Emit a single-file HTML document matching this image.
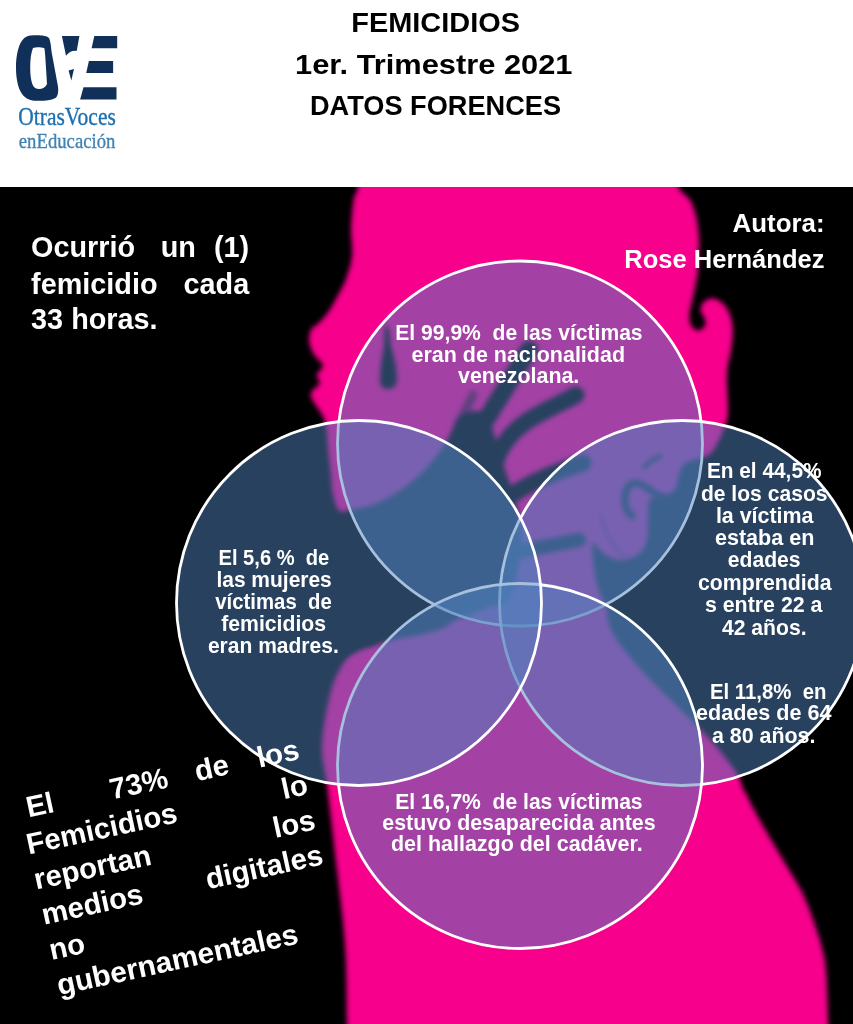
<!DOCTYPE html>
<html lang="es"><head><meta charset="utf-8"><title>Femicidios 1er. Trimestre 2021</title>
<style>
html,body{margin:0;padding:0;background:#fff}
#page{position:relative;width:853px;height:1024px;overflow:hidden;background:#fff}
svg{display:block}
</style></head><body>
<div id="page">
<svg width="853" height="1024" viewBox="0 0 853 1024">
<defs>
<filter id="b3" x="-10%" y="-10%" width="120%" height="120%"><feGaussianBlur stdDeviation="2.6"/></filter>
<filter id="b2" x="-30%" y="-30%" width="160%" height="160%"><feGaussianBlur stdDeviation="2.8"/></filter>
<clipPath id="art"><rect x="0" y="187" width="853" height="837"/></clipPath>
</defs>
<rect x="0" y="0" width="853" height="187" fill="#fff"/>
<!-- artwork -->
<g clip-path="url(#art)">
<rect x="0" y="187" width="853" height="837" fill="#000"/>
<path id="silhouette" d="M362.0,150.0 C389.0,142.2 468.7,140.0 520.0,140.0 C571.3,140.0 643.7,142.3 670.0,150.0 C696.3,157.7 674.7,177.7 678.0,186.0 C681.3,194.3 687.0,195.0 690.0,200.0 C693.0,205.0 694.5,209.5 696.0,216.0 C697.5,222.5 698.7,230.2 699.0,239.0 C699.3,247.8 698.6,261.3 698.0,269.0 C697.4,276.7 696.3,280.3 695.5,285.0 C694.7,289.7 694.0,292.2 693.0,297.0 C692.0,301.8 689.8,309.3 689.5,314.0 C689.2,318.7 689.6,322.2 691.0,325.0 C692.4,327.8 695.7,330.3 698.0,330.5 C700.3,330.7 703.9,328.1 705.0,326.0 C706.1,323.9 705.2,320.5 704.5,318.0 C703.8,315.5 700.8,313.5 700.5,311.0 C700.2,308.5 701.4,305.1 703.0,303.0 C704.6,300.9 707.7,299.1 710.0,298.5 C712.3,297.9 714.6,298.4 717.0,299.5 C719.4,300.6 722.3,302.4 724.5,305.0 C726.7,307.6 728.7,311.5 730.0,315.0 C731.3,318.5 732.1,322.2 732.5,326.0 C732.9,329.8 732.8,334.0 732.5,338.0 C732.2,342.0 731.7,346.0 731.0,350.0 C730.3,354.0 729.2,358.3 728.5,362.0 C727.8,365.7 727.2,367.8 727.0,372.0 C726.8,376.2 726.8,381.3 727.0,387.0 C727.2,392.7 727.9,400.8 728.0,406.0 C728.1,411.2 728.0,414.5 727.4,418.0 C726.8,421.5 725.9,423.3 724.5,427.0 C723.1,430.7 721.1,435.8 719.0,440.0 C716.9,444.2 714.5,449.2 712.0,452.0 C709.5,454.8 707.7,455.5 704.0,457.0 C700.3,458.5 693.3,459.8 690.0,461.0 C686.7,462.2 685.8,461.8 684.0,464.0 C682.2,466.2 680.3,470.0 679.0,474.0 C677.7,478.0 677.8,484.7 676.0,488.0 C674.2,491.3 671.5,492.7 668.0,494.0 C664.5,495.3 658.2,494.7 655.0,496.0 C651.8,497.3 650.2,498.0 649.0,502.0 C647.8,506.0 648.3,513.8 648.0,520.0 C647.7,526.2 648.3,533.5 647.0,539.0 C645.7,544.5 644.0,549.5 640.0,553.0 C636.0,556.5 628.2,559.3 623.0,560.0 C617.8,560.7 612.8,558.7 609.0,557.0 C605.2,555.3 602.7,552.3 600.0,550.0 C597.3,547.7 594.2,541.3 593.0,543.0 C591.8,544.7 592.5,553.8 593.0,560.0 C593.5,566.2 594.8,574.3 596.0,580.0 C597.2,585.7 598.5,590.0 600.0,594.0 C601.5,598.0 602.8,597.3 605.0,604.0 C607.2,610.7 606.5,622.5 613.0,634.0 C619.5,645.5 632.3,660.0 644.0,673.0 C655.7,686.0 671.3,700.2 683.0,712.0 C694.7,723.8 704.8,733.5 714.0,744.0 C723.2,754.5 733.2,767.7 738.0,775.0 C742.8,782.3 739.0,779.8 743.0,788.0 C747.0,796.2 755.0,811.5 762.0,824.0 C769.0,836.5 778.2,851.3 785.0,863.0 C791.8,874.7 797.8,883.2 803.0,894.0 C808.2,904.8 812.5,917.7 816.0,928.0 C819.5,938.3 822.2,947.5 824.0,956.0 C825.8,964.5 825.8,967.7 826.5,979.0 C827.2,990.3 827.8,1010.5 828.0,1024.0 C828.2,1037.5 908.0,1054.0 828.0,1060.0 C748.0,1066.0 428.2,1066.0 348.0,1060.0 C267.8,1054.0 347.5,1043.2 347.0,1024.0 C346.5,1004.8 346.7,970.7 345.0,945.0 C343.3,919.3 340.0,896.7 337.0,870.0 C334.0,843.3 329.5,805.8 327.0,785.0 C324.5,764.2 321.4,760.4 322.0,745.0 C322.6,729.6 327.0,706.3 330.6,692.6 C334.2,678.9 339.1,670.1 343.8,662.6 C348.5,655.1 353.5,650.9 358.8,647.5 C364.1,644.1 368.8,647.4 375.7,642.0 C382.6,636.6 397.6,630.3 400.0,615.0 C402.4,599.7 398.3,565.5 390.0,550.0 C381.7,534.5 358.7,528.8 350.0,522.0 C341.3,515.2 340.8,513.7 338.0,509.0 C335.2,504.3 334.2,499.5 333.0,494.0 C331.8,488.5 331.8,483.8 331.0,476.0 C330.2,468.2 328.8,455.2 328.0,447.5 C327.2,439.8 327.2,434.8 326.5,430.0 C325.8,425.2 325.4,422.4 324.0,418.8 C322.6,415.2 319.8,411.5 318.0,408.6 C316.2,405.7 314.2,404.0 313.0,401.3 C311.8,398.6 309.9,395.5 311.0,392.5 C312.1,389.5 318.5,386.4 319.5,383.5 C320.5,380.6 316.2,378.0 316.8,375.0 C317.4,372.0 323.1,368.6 322.8,365.4 C322.5,362.2 317.1,359.1 315.0,356.0 C312.9,352.9 311.5,349.9 310.5,347.0 C309.5,344.1 308.8,341.3 309.0,338.3 C309.2,335.3 310.0,331.4 311.5,329.0 C313.0,326.6 315.2,326.5 318.0,323.7 C320.8,320.9 324.9,316.9 328.3,312.0 C331.7,307.1 335.7,299.5 338.6,294.0 C341.6,288.5 343.8,285.3 346.0,279.0 C348.2,272.7 351.2,264.0 352.0,256.0 C352.8,248.0 351.0,238.0 351.0,231.0 C351.0,224.0 351.5,219.5 352.0,214.0 C352.5,208.5 353.0,202.5 354.0,198.0 C355.0,193.5 356.7,195.0 358.0,187.0 C359.3,179.0 335.0,157.8 362.0,150.0Z" fill="#f6028c" filter="url(#b3)"/>
<g id="hand" filter="url(#b2)" fill="#000" stroke="#000" stroke-linecap="round" stroke-linejoin="round">
<path d="M290.0,530.0 C295.8,499.7 315.8,521.2 325.0,518.0 C334.2,514.8 336.7,513.3 345.0,511.0 C353.3,508.7 365.0,508.0 375.0,504.0 C385.0,500.0 396.2,493.3 405.0,487.0 C413.8,480.7 421.7,472.7 428.0,466.0 C434.3,459.3 439.0,453.0 443.0,447.0 C447.0,441.0 449.2,435.2 452.0,430.0 C454.8,424.8 455.7,419.2 460.0,416.0 C464.3,412.8 473.0,410.0 478.0,411.0 C483.0,412.0 486.3,414.7 490.0,422.0 C493.7,429.3 495.8,442.0 500.0,455.0 C504.2,468.0 511.3,485.8 515.0,500.0 C518.7,514.2 522.8,523.7 522.0,540.0 C521.2,556.3 515.3,586.8 510.0,598.0 C504.7,609.2 496.7,604.2 490.0,607.0 C483.3,609.8 475.7,612.8 470.0,615.0 C464.3,617.2 460.8,617.7 456.0,620.0 C451.2,622.3 447.8,626.3 441.0,629.0 C434.2,631.7 424.3,633.8 415.0,636.0 C405.7,638.2 397.5,638.0 385.0,642.0 C372.5,646.0 355.8,650.3 340.0,660.0 C324.2,669.7 298.3,721.7 290.0,700.0 C281.7,678.3 284.2,560.3 290.0,530.0Z" stroke="none"/>
<path d="M458,425 L473,395" stroke-width="9" fill="none" opacity="0.55"/>
<path d="M466,452 L529,350" stroke-width="18" fill="none"/>
<path d="M495,464 C500,445 512,432 526,422 C540,412 560,404 576,395" stroke-width="17" fill="none"/>
<path d="M505,500 C522,487 548,474 583,463" stroke-width="17" fill="none"/>
<path d="M516,552 L579,540" stroke-width="14" fill="none"/>
<path d="M386,325 C389,325 390,335 391,346 C394,356 397,368 397,380 C396,388 392,389 388,389 C383,389 380,387 380,380 C380,368 382,356 384,346 C385,335 384,326 386,325Z" stroke="none"/>
<path d="M662,497 C652,494 646,484 636,483 C627,483 624,492 625,503 C626,510 629,514 632,516" stroke-width="7" fill="none"/>
<path d="M644,467 C650,461 655,458 661,456" stroke-width="4" fill="none"/>
<path d="M600,515 C606,535 615,550 625,556" stroke-width="2.5" fill="none" opacity="0.5"/>
</g>
</g>
<!-- venn -->
<g id="venn">
<circle cx="520.0" cy="443.5" r="182.5" fill="#4f81bd" fill-opacity="0.5" stroke="#fff" stroke-width="2.8"/>
<circle cx="682.0" cy="603.0" r="182.5" fill="#4f81bd" fill-opacity="0.5" stroke="#fff" stroke-width="2.8"/>
<circle cx="520.0" cy="766.0" r="182.5" fill="#4f81bd" fill-opacity="0.5" stroke="#fff" stroke-width="2.8"/>
<circle cx="359.0" cy="603.0" r="182.5" fill="#4f81bd" fill-opacity="0.5" stroke="#fff" stroke-width="2.8"/>
</g>
<!-- logo -->
<g id="logo" fill="#10305a">
<path fill-rule="evenodd" d="M30.5,35.5 C38,34.8 46.5,35 49.2,38.2 C50.6,42 51,46 51.6,52 L58,86.5 C58.6,92 58,96 55.5,98 C50,100.8 43,101 37,100.8 C29,100.8 23.5,97.5 20.5,91.5 C17.2,85 16,76 16,67.5 C16,58 17.5,49.5 20.3,43.5 C22.8,38.5 26,36 30.5,35.5Z M33,48 C31,53 30.2,60 30.2,67.8 C30.2,75 31,80.5 32.4,84.2 C33.8,87.6 36,89 39,89 C42.5,89 45.5,87.5 47,84 L45.7,63.5 C45.4,57 45,52 44.4,48.2 C41,47.2 36,47 33,48Z"/>
<path d="M61.9,36.1 L79.4,36.1 L76.7,50.9 C72,50.5 68.5,52.5 66,55.8Z"/>
<path d="M68.6,70.4 L74,69.1 L71.3,80.6Z"/>
<path d="M94.3,36.1 L117.2,36.1 L117.2,48.2 L91.6,48.2Z"/>
<path d="M88.9,61 L113.1,61 L113.1,73.1 L86.2,73.1Z"/>
<path d="M83.5,87.3 L116.5,87.3 L116.5,99.4 L80.1,99.4Z"/>
</g>
<g id="labels">
<text x="351.3" y="32.0" font-size="27.6" font-family="'Liberation Sans',sans-serif" font-weight="bold" fill="#000" textLength="168.7" lengthAdjust="spacingAndGlyphs" xml:space="preserve" style="white-space:pre">FEMICIDIOS</text>
<text x="295.0" y="73.6" font-size="27.6" font-family="'Liberation Sans',sans-serif" font-weight="bold" fill="#000" textLength="277.5" lengthAdjust="spacingAndGlyphs" xml:space="preserve" style="white-space:pre">1er. Trimestre 2021</text>
<text x="310.0" y="115.0" font-size="27.6" font-family="'Liberation Sans',sans-serif" font-weight="bold" fill="#000" textLength="251.0" lengthAdjust="spacingAndGlyphs" xml:space="preserve" style="white-space:pre">DATOS FORENCES</text>
<text x="18.3" y="124.6" font-size="25.2" font-family="'Liberation Serif',serif" stroke="#1d70b0" stroke-width="0.35" fill="#1d70b0" textLength="97.5" lengthAdjust="spacingAndGlyphs" xml:space="preserve" style="white-space:pre">OtrasVoces</text>
<text x="18.8" y="147.5" font-size="21.5" font-family="'Liberation Serif',serif" stroke="#4183b3" stroke-width="0.35" fill="#4183b3" textLength="96.6" lengthAdjust="spacingAndGlyphs" xml:space="preserve" style="white-space:pre">enEducación</text>
<text x="732.6" y="231.6" font-size="26.0" font-family="'Liberation Sans',sans-serif" font-weight="bold" fill="#fff" textLength="91.9" lengthAdjust="spacingAndGlyphs" xml:space="preserve" style="white-space:pre">Autora:</text>
<text x="624.3" y="267.8" font-size="26.0" font-family="'Liberation Sans',sans-serif" font-weight="bold" fill="#fff" textLength="200.2" lengthAdjust="spacingAndGlyphs" xml:space="preserve" style="white-space:pre">Rose Hernández</text>
<text x="31.1" y="256.6" font-size="28.8" font-family="'Liberation Sans',sans-serif" font-weight="bold" fill="#fff" xml:space="preserve" style="white-space:pre">Ocurrió</text>
<text x="160.7" y="256.6" font-size="28.8" font-family="'Liberation Sans',sans-serif" font-weight="bold" fill="#fff" xml:space="preserve" style="white-space:pre">un</text>
<text x="249.2" y="256.6" font-size="28.8" font-family="'Liberation Sans',sans-serif" font-weight="bold" fill="#fff" text-anchor="end" xml:space="preserve" style="white-space:pre">(1)</text>
<text x="31.1" y="294.0" font-size="28.8" font-family="'Liberation Sans',sans-serif" font-weight="bold" fill="#fff" xml:space="preserve" style="white-space:pre">femicidio</text>
<text x="249.2" y="294.0" font-size="28.8" font-family="'Liberation Sans',sans-serif" font-weight="bold" fill="#fff" text-anchor="end" xml:space="preserve" style="white-space:pre">cada</text>
<text x="31.1" y="329.2" font-size="28.8" font-family="'Liberation Sans',sans-serif" font-weight="bold" fill="#fff" xml:space="preserve" style="white-space:pre">33 horas.</text>
<text x="395.3" y="339.9" font-size="21.3" font-family="'Liberation Sans',sans-serif" font-weight="bold" fill="#fff" textLength="247.3" lengthAdjust="spacingAndGlyphs" xml:space="preserve" style="white-space:pre">El 99,9%  de las víctimas</text>
<text x="411.5" y="362.0" font-size="21.3" font-family="'Liberation Sans',sans-serif" font-weight="bold" fill="#fff" textLength="213.5" lengthAdjust="spacingAndGlyphs" xml:space="preserve" style="white-space:pre">eran de nacionalidad</text>
<text x="458.0" y="383.2" font-size="21.3" font-family="'Liberation Sans',sans-serif" font-weight="bold" fill="#fff" textLength="121.3" lengthAdjust="spacingAndGlyphs" xml:space="preserve" style="white-space:pre">venezolana.</text>
<text x="218.5" y="564.8" font-size="21.3" font-family="'Liberation Sans',sans-serif" font-weight="bold" fill="#fff" textLength="110.8" lengthAdjust="spacingAndGlyphs" xml:space="preserve" style="white-space:pre">El 5,6 %  de</text>
<text x="216.4" y="587.0" font-size="21.3" font-family="'Liberation Sans',sans-serif" font-weight="bold" fill="#fff" textLength="115.4" lengthAdjust="spacingAndGlyphs" xml:space="preserve" style="white-space:pre">las mujeres</text>
<text x="215.3" y="608.5" font-size="21.3" font-family="'Liberation Sans',sans-serif" font-weight="bold" fill="#fff" textLength="116.5" lengthAdjust="spacingAndGlyphs" xml:space="preserve" style="white-space:pre">víctimas  de</text>
<text x="221.2" y="630.9" font-size="21.3" font-family="'Liberation Sans',sans-serif" font-weight="bold" fill="#fff" textLength="104.9" lengthAdjust="spacingAndGlyphs" xml:space="preserve" style="white-space:pre">femicidios</text>
<text x="207.9" y="652.8" font-size="21.3" font-family="'Liberation Sans',sans-serif" font-weight="bold" fill="#fff" textLength="130.9" lengthAdjust="spacingAndGlyphs" xml:space="preserve" style="white-space:pre">eran madres.</text>
<text x="706.9" y="478.3" font-size="21.3" font-family="'Liberation Sans',sans-serif" font-weight="bold" fill="#fff" textLength="114.6" lengthAdjust="spacingAndGlyphs" xml:space="preserve" style="white-space:pre">En el 44,5%</text>
<text x="700.9" y="500.6" font-size="21.3" font-family="'Liberation Sans',sans-serif" font-weight="bold" fill="#fff" textLength="126.6" lengthAdjust="spacingAndGlyphs" xml:space="preserve" style="white-space:pre">de los casos</text>
<text x="715.9" y="522.5" font-size="21.3" font-family="'Liberation Sans',sans-serif" font-weight="bold" fill="#fff" textLength="97.6" lengthAdjust="spacingAndGlyphs" xml:space="preserve" style="white-space:pre">la víctima</text>
<text x="714.9" y="544.5" font-size="21.3" font-family="'Liberation Sans',sans-serif" font-weight="bold" fill="#fff" textLength="99.6" lengthAdjust="spacingAndGlyphs" xml:space="preserve" style="white-space:pre">estaba en</text>
<text x="727.8" y="567.0" font-size="21.3" font-family="'Liberation Sans',sans-serif" font-weight="bold" fill="#fff" textLength="72.8" lengthAdjust="spacingAndGlyphs" xml:space="preserve" style="white-space:pre">edades</text>
<text x="698.0" y="589.7" font-size="21.3" font-family="'Liberation Sans',sans-serif" font-weight="bold" fill="#fff" textLength="133.5" lengthAdjust="spacingAndGlyphs" xml:space="preserve" style="white-space:pre">comprendida</text>
<text x="704.9" y="612.2" font-size="21.3" font-family="'Liberation Sans',sans-serif" font-weight="bold" fill="#fff" textLength="117.6" lengthAdjust="spacingAndGlyphs" xml:space="preserve" style="white-space:pre">s entre 22 a</text>
<text x="721.9" y="634.5" font-size="21.3" font-family="'Liberation Sans',sans-serif" font-weight="bold" fill="#fff" textLength="84.7" lengthAdjust="spacingAndGlyphs" xml:space="preserve" style="white-space:pre">42 años.</text>
<text x="709.9" y="698.7" font-size="21.3" font-family="'Liberation Sans',sans-serif" font-weight="bold" fill="#fff" textLength="116.6" lengthAdjust="spacingAndGlyphs" xml:space="preserve" style="white-space:pre">El 11,8%  en</text>
<text x="696.0" y="720.2" font-size="21.3" font-family="'Liberation Sans',sans-serif" font-weight="bold" fill="#fff" textLength="135.5" lengthAdjust="spacingAndGlyphs" xml:space="preserve" style="white-space:pre">edades de 64</text>
<text x="711.9" y="742.5" font-size="21.3" font-family="'Liberation Sans',sans-serif" font-weight="bold" fill="#fff" textLength="103.6" lengthAdjust="spacingAndGlyphs" xml:space="preserve" style="white-space:pre">a 80 años.</text>
<text x="395.3" y="808.8" font-size="21.3" font-family="'Liberation Sans',sans-serif" font-weight="bold" fill="#fff" textLength="247.3" lengthAdjust="spacingAndGlyphs" xml:space="preserve" style="white-space:pre">El 16,7%  de las víctimas</text>
<text x="382.3" y="830.3" font-size="21.3" font-family="'Liberation Sans',sans-serif" font-weight="bold" fill="#fff" textLength="273.3" lengthAdjust="spacingAndGlyphs" xml:space="preserve" style="white-space:pre">estuvo desaparecida antes</text>
<text x="391.0" y="851.4" font-size="21.3" font-family="'Liberation Sans',sans-serif" font-weight="bold" fill="#fff" textLength="251.6" lengthAdjust="spacingAndGlyphs" xml:space="preserve" style="white-space:pre">del hallazgo del cadáver.</text>
<g transform="translate(21.1,819.2) rotate(-12.2)">
<text x="7.5" y="0.0" font-size="29.4" font-family="'Liberation Sans',sans-serif" font-weight="bold" fill="#fff" xml:space="preserve" style="white-space:pre">El</text>
<text x="93.0" y="0.0" font-size="29.4" font-family="'Liberation Sans',sans-serif" font-weight="bold" fill="#fff" xml:space="preserve" style="white-space:pre">73%</text>
<text x="180.0" y="0.0" font-size="29.4" font-family="'Liberation Sans',sans-serif" font-weight="bold" fill="#fff" xml:space="preserve" style="white-space:pre">de</text>
<text x="286.0" y="0.0" font-size="29.4" font-family="'Liberation Sans',sans-serif" font-weight="bold" fill="#fff" text-anchor="end" xml:space="preserve" style="white-space:pre">los</text>
<text x="0.0" y="36.0" font-size="29.4" font-family="'Liberation Sans',sans-serif" font-weight="bold" fill="#fff" xml:space="preserve" style="white-space:pre">Femicidios</text>
<text x="287.0" y="36.0" font-size="29.4" font-family="'Liberation Sans',sans-serif" font-weight="bold" fill="#fff" text-anchor="end" xml:space="preserve" style="white-space:pre">lo</text>
<text x="0.0" y="72.0" font-size="29.4" font-family="'Liberation Sans',sans-serif" font-weight="bold" fill="#fff" xml:space="preserve" style="white-space:pre">reportan</text>
<text x="287.0" y="72.0" font-size="29.4" font-family="'Liberation Sans',sans-serif" font-weight="bold" fill="#fff" text-anchor="end" xml:space="preserve" style="white-space:pre">los</text>
<text x="0.0" y="108.0" font-size="29.4" font-family="'Liberation Sans',sans-serif" font-weight="bold" fill="#fff" xml:space="preserve" style="white-space:pre">medios</text>
<text x="287.0" y="108.0" font-size="29.4" font-family="'Liberation Sans',sans-serif" font-weight="bold" fill="#fff" text-anchor="end" xml:space="preserve" style="white-space:pre">digitales</text>
<text x="0.0" y="144.0" font-size="29.4" font-family="'Liberation Sans',sans-serif" font-weight="bold" fill="#fff" xml:space="preserve" style="white-space:pre">no</text>
<text x="0.0" y="180.0" font-size="29.4" font-family="'Liberation Sans',sans-serif" font-weight="bold" fill="#fff" textLength="246.0" lengthAdjust="spacingAndGlyphs" xml:space="preserve" style="white-space:pre">gubernamentales</text>
</g>
</g>
</svg>
</div>
</body></html>
